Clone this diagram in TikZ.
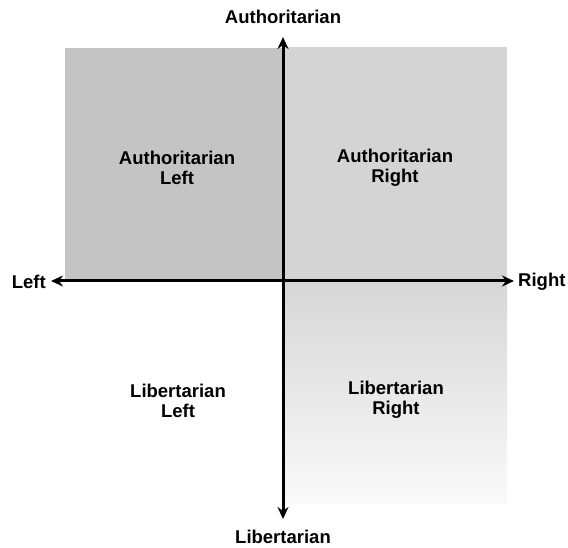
\documentclass[tikz,border=0pt]{standalone}
\usepackage{fontspec}
\setmainfont{Liberation Sans}
\usetikzlibrary{arrows.meta}
\begin{document}
\begin{tikzpicture}[x=1pt,y=-1pt,
  lbl/.style={font=\fontsize{18.5}{20}\selectfont\bfseries, text=black, inner sep=0pt, align=center},
  axis/.style={line width=3pt, black, -{Stealth[length=12pt,width=11pt]}}]
\useasboundingbox (0,0) rectangle (568,548);
% quadrant fills
\fill[black!23] (65,48) rectangle (282,280);
\fill[black!17] (284,47) rectangle (507,280);
\shade[top color=black!16, bottom color=black!2] (284,282) rectangle (507,503);
% axis end points
\coordinate (c) at (283,281);
\coordinate (up) at (283,37);
\coordinate (down) at (283,519);
\coordinate (lft) at (51,281);
\coordinate (rgt) at (514,281);
\draw[axis] (c) -- (up);
\draw[axis] (c) -- (down);
\draw[axis] (c) -- (lft);
\draw[axis] (c) -- (rgt);
% axis labels
\node[lbl] (auth) at (283,17) {Authoritarian};
\node[lbl] (lib) at (283,537) {Libertarian};
\node[lbl, anchor=east] (left) at (46,282) {Left};
\node[lbl, anchor=west] (right) at (518,282) {Right};
% quadrant labels
\node[lbl] (al) at (177,168) {Authoritarian\\Left};
\node[lbl] (ar) at (395,168) {Authoritarian\\Right};
\node[lbl] (ll) at (178,401) {Libertarian\\Left};
\node[lbl] (lr) at (396,400) {Libertarian\\Right};
\end{tikzpicture}
\end{document}
